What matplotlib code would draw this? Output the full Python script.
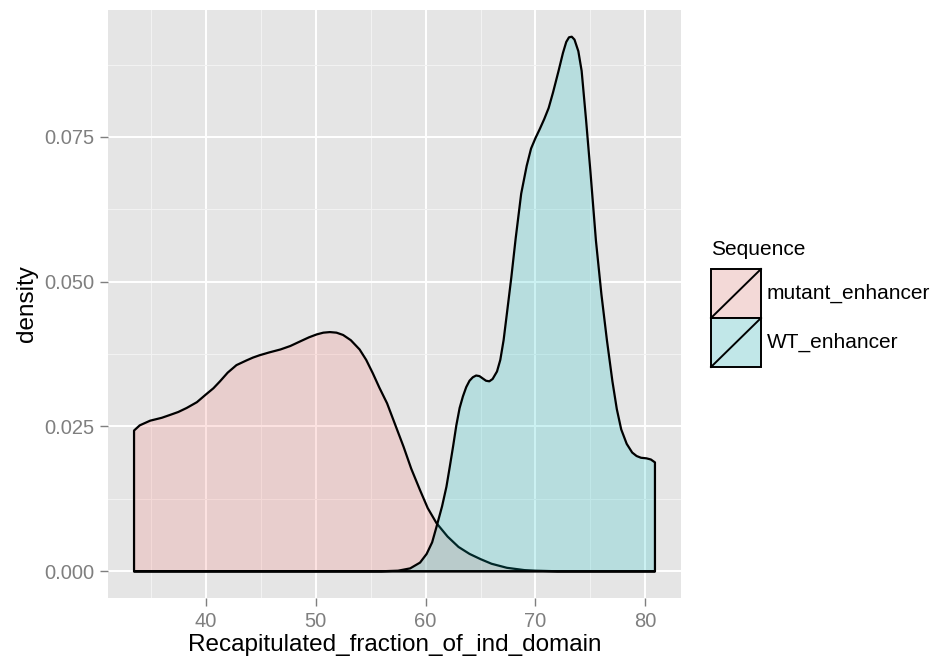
import matplotlib
matplotlib.use("Agg")
import matplotlib.pyplot as plt
from matplotlib.patches import Rectangle
from matplotlib.lines import Line2D
from matplotlib.ticker import MultipleLocator

plt.rcParams["font.family"] = ["Liberation Sans", "DejaVu Sans"]

# density curves
mut_x = [33.48, 34.0, 34.94, 36.0, 36.76, 37.5, 38.27, 39.2, 40.0, 40.7, 41.3, 42.0,
         42.8, 43.7, 44.3, 44.9, 45.8, 46.8, 47.7, 48.6, 49.4, 50.1, 50.7, 51.3,
         51.9, 52.5, 53.2, 54.0, 54.6, 55.2, 55.8, 56.5, 57.2, 58.0, 58.7, 59.5,
         60.2, 61.0, 62.0, 63.0, 64.0, 65.0, 66.0, 67.4, 69.0, 70.0, 72.0, 80.87]
mut_y = [0.0243, 0.0252, 0.0260, 0.0265, 0.0270, 0.0275, 0.0282, 0.0292, 0.0305,
         0.0316, 0.0328, 0.0343, 0.0356, 0.0364, 0.0369, 0.0373, 0.0378, 0.0383,
         0.0389, 0.0397, 0.0404, 0.0409, 0.0412, 0.0413, 0.0412, 0.0408, 0.0399,
         0.0383, 0.0365, 0.0342, 0.0317, 0.0290, 0.0255, 0.0215, 0.0177, 0.0140,
         0.0109, 0.0083, 0.0060, 0.0042, 0.0030, 0.0021, 0.0013, 0.0006, 0.0002,
         0.0001, 0.0, 0.0]

wt_x = [33.48, 56.0, 57.5, 58.6, 59.5, 60.1, 60.6, 61.0, 61.5, 61.9, 62.2, 62.5,
        62.8, 63.1, 63.4, 63.7, 64.0, 64.3, 64.6, 64.9, 65.2, 65.5, 65.8, 66.1,
        66.5, 66.8, 67.1, 67.4, 67.8, 68.2, 68.7, 69.2, 69.6, 70.0, 70.4, 70.8,
        71.2, 71.6, 72.1, 72.5, 72.8, 73.05, 73.3, 73.55, 73.9, 74.2, 74.6, 75.0,
        75.5, 76.0, 76.5, 77.0, 77.4, 77.8, 78.3, 78.8, 79.2, 79.6, 80.1, 80.5, 80.87]
wt_y = [0.0, 0.0, 0.0001, 0.0005, 0.0015, 0.0030, 0.0050, 0.0077, 0.0112, 0.0146,
        0.0180, 0.0215, 0.0252, 0.0282, 0.0302, 0.0318, 0.0329, 0.0335, 0.0338,
        0.0337, 0.0333, 0.0329, 0.0328, 0.0332, 0.0345, 0.0365, 0.0399, 0.0445,
        0.0507, 0.0575, 0.0652, 0.0700, 0.0730, 0.0748, 0.0764, 0.0781, 0.0800,
        0.0827, 0.0864, 0.0895, 0.0914, 0.0922, 0.0923, 0.0918, 0.0898, 0.0864,
        0.0780, 0.0690, 0.0571, 0.0478, 0.0399, 0.0328, 0.0280, 0.0245, 0.0220,
        0.0205, 0.0199, 0.0196, 0.0195, 0.0193, 0.0188]

groups = ["mutant_enhancer", "WT_enhancer"]
colors = ["#F8766D", "#00BFC4"]

W, H = 937, 661
fig = plt.figure(figsize=(W / 100, H / 100), dpi=100)
ax = fig.add_axes([108 / W, 1 - 598 / H, (681 - 108) / W, (598 - 10) / H])

ax.set_facecolor("#E5E5E5")
ax.xaxis.set_major_locator(MultipleLocator(10))
ax.xaxis.set_minor_locator(MultipleLocator(5))
ax.yaxis.set_major_locator(MultipleLocator(0.025))
ax.yaxis.set_minor_locator(MultipleLocator(0.0125))
ax.grid(which="major", color="white", lw=1.4)
ax.grid(which="minor", color="#F2F2F2", lw=0.8)
ax.set_axisbelow(True)
for s in ax.spines.values():
    s.set_visible(False)

for xs, ys, c in [(mut_x, mut_y, colors[0]), (wt_x, wt_y, colors[1])]:
    xx = [xs[0]] + xs + [xs[-1]]
    yy = [0.0] + ys + [0.0]
    ax.fill(xx, yy, facecolor=matplotlib.colors.to_rgba(c, 0.2),
            edgecolor="black", lw=1.6, joinstyle="round", zorder=3)

x0, x1 = 33.48, 80.87
ax.set_xlim(x0 - 0.05 * (x1 - x0), x1 + 0.05 * (x1 - x0))
ax.set_ylim(-0.05 * 0.0923, 0.0923 * 1.05)
ax.set_xticks([40, 50, 60, 70, 80])
ax.set_yticks([0.0, 0.025, 0.05, 0.075])
ax.set_yticklabels(["0.000", "0.025", "0.050", "0.075"])
ax.tick_params(which="major", length=6, width=1, color="#7F7F7F",
               labelcolor="#7F7F7F", labelsize=14.5, pad=4)
ax.tick_params(which="minor", length=0)
ax.set_xlabel("Recapitulated_fraction_of_ind_domain", fontsize=17.5, labelpad=2)
ax.set_ylabel("density", fontsize=17.5, labelpad=4)

# legend
fig.text(711 / W, 1 - 250 / H, "Sequence", fontsize=15, va="center", ha="left")
kx0, kx1 = 711 / W, 761 / W
for i, (g, c) in enumerate(zip(groups, colors)):
    top = 269 + i * 49
    ky0, ky1 = 1 - (top + 49) / H, 1 - top / H
    fig.patches.append(Rectangle((kx0, ky0), kx1 - kx0, ky1 - ky0, transform=fig.transFigure,
                                 facecolor="#F2F2F2", edgecolor="none"))
    fig.patches.append(Rectangle((kx0, ky0), kx1 - kx0, ky1 - ky0, transform=fig.transFigure,
                                 facecolor=matplotlib.colors.to_rgba(c, 0.2),
                                 edgecolor="black", lw=1.4))
    fig.lines.append(Line2D([kx0, kx1], [ky0, ky1], transform=fig.transFigure,
                            color="black", lw=1.4))
    fig.text(767 / W, (ky0 + ky1) / 2, g, fontsize=15, va="center", ha="left")

fig.savefig("out.png", dpi=100)
